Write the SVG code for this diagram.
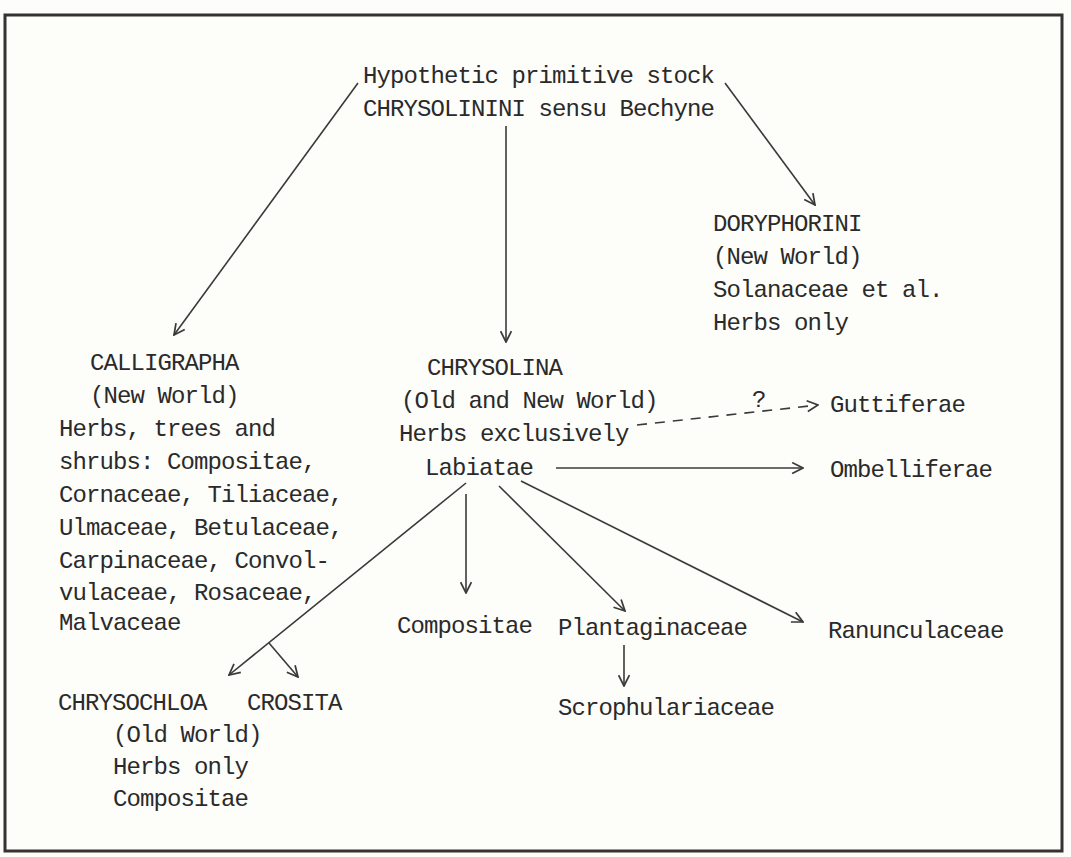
<svg xmlns="http://www.w3.org/2000/svg" width="1071" height="857" viewBox="0 0 1071 857">
<style>
.t{font-family:"Liberation Mono","DejaVu Sans Mono",monospace;font-size:24px;letter-spacing:-0.9px;fill:#2a2a2a}
.c{fill:none;stroke:#3a3a3a;stroke-width:1.6}
.d{stroke-dasharray:10 8}
</style>
<defs>
<marker id="ah" viewBox="0 0 12 12" refX="11" refY="6" markerWidth="13" markerHeight="13" markerUnits="userSpaceOnUse" orient="auto">
<path d="M1,1 L11,6 L1,11" fill="none" stroke="#3a3a3a" stroke-width="1.6"/>
</marker>
</defs>
<rect x="0" y="0" width="1071" height="857" fill="#fdfdfa"/>
<rect id="frame" x="5" y="15" width="1057" height="836" fill="none" stroke="#333" stroke-width="3"/>
<g id="connectors">
<line class="c" x1="358" y1="83" x2="174" y2="335" marker-end="url(#ah)"/>
<line class="c" x1="506" y1="126" x2="506" y2="342" marker-end="url(#ah)"/>
<line class="c" x1="725" y1="83" x2="815" y2="205" marker-end="url(#ah)"/>
<line class="c d" x1="637" y1="425" x2="818" y2="405" marker-end="url(#ah)"/>
<line class="c" x1="556" y1="468" x2="803" y2="468" marker-end="url(#ah)"/>
<line class="c" x1="466" y1="483" x2="229" y2="675" marker-end="url(#ah)"/>
<line class="c" x1="269" y1="643" x2="298" y2="677" marker-end="url(#ah)"/>
<line class="c" x1="466" y1="494" x2="466" y2="593" marker-end="url(#ah)"/>
<line class="c" x1="499" y1="486" x2="625" y2="611" marker-end="url(#ah)"/>
<line class="c" x1="521" y1="481" x2="803" y2="622" marker-end="url(#ah)"/>
<line class="c" x1="624" y1="645" x2="624" y2="686" marker-end="url(#ah)"/>
</g>
<g id="stock">
<text class="t" x="363" y="83">Hypothetic primitive stock</text>
<text class="t" x="363" y="116">CHRYSOLININI sensu Bechyne</text>
</g>
<g id="doryphorini">
<text class="t" x="713" y="231">DORYPHORINI</text>
<text class="t" x="713" y="264">(New World)</text>
<text class="t" x="713" y="297">Solanaceae et al.</text>
<text class="t" x="713" y="330">Herbs only</text>
</g>
<g id="calligrapha">
<text class="t" x="90" y="370">CALLIGRAPHA</text>
<text class="t" x="90" y="403">(New World)</text>
<text class="t" x="59" y="436">Herbs, trees and</text>
<text class="t" x="59" y="469">shrubs: Compositae,</text>
<text class="t" x="59" y="502">Cornaceae, Tiliaceae,</text>
<text class="t" x="59" y="535">Ulmaceae, Betulaceae,</text>
<text class="t" x="59" y="568">Carpinaceae, Convol-</text>
<text class="t" x="59" y="600">vulaceae, Rosaceae,</text>
<text class="t" x="59" y="630">Malvaceae</text>
</g>
<g id="chrysolina">
<text class="t" x="427" y="375">CHRYSOLINA</text>
<text class="t" x="401" y="408">(Old and New World)</text>
<text class="t" x="399" y="441">Herbs exclusively</text>
<text class="t" x="425" y="475">Labiatae</text>
</g>
<g id="question">
<text class="t" x="752" y="407">?</text>
</g>
<g id="guttiferae">
<text class="t" x="830" y="412">Guttiferae</text>
</g>
<g id="ombelliferae">
<text class="t" x="830" y="477">Ombelliferae</text>
</g>
<g id="compositae">
<text class="t" x="397" y="633">Compositae</text>
</g>
<g id="plantaginaceae">
<text class="t" x="558" y="635">Plantaginaceae</text>
</g>
<g id="ranunculaceae">
<text class="t" x="828" y="638">Ranunculaceae</text>
</g>
<g id="scrophulariaceae">
<text class="t" x="558" y="715">Scrophulariaceae</text>
</g>
<g id="chrysochloa">
<text class="t" x="58" y="710">CHRYSOCHLOA</text>
<text class="t" x="113" y="742">(Old World)</text>
<text class="t" x="113" y="774">Herbs only</text>
<text class="t" x="113" y="806">Compositae</text>
</g>
<g id="crosita">
<text class="t" x="247" y="710">CROSITA</text>
</g>
</svg>
